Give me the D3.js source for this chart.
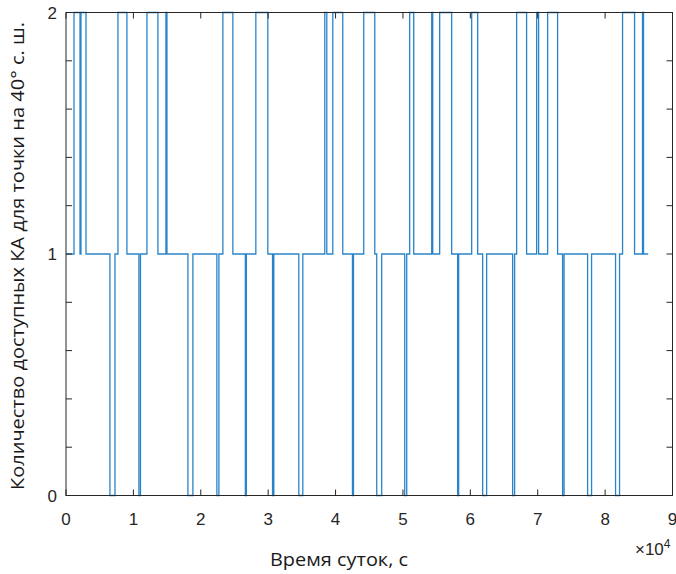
<!DOCTYPE html>
<html><head><meta charset="utf-8">
<script src="https://cdn.jsdelivr.net/npm/d3@7"></script>
<style>
html,body{margin:0;padding:0;background:#fff;}
svg{display:block;}
</style></head>
<body>
<svg id="chart" width="676" height="574"></svg>
<script>
// Step times (s) and number of visible satellites after each step
const stepTimes = [0,1190,2080,2220,2970,6520,7270,7710,9040,10820,11050,12010,13640,14830,14980,
  18090,18830,22390,22690,23280,24760,26610,26760,28170,29950,30650,30840,34550,35140,
  38400,38700,39590,41070,42510,42660,44180,45820,46110,46850,50260,50560,51000,51600,
  54270,54420,55450,57230,58120,58270,60200,61090,61830,62420,66280,66570,66870,68350,
  69840,70130,71470,72950,73690,73910,77400,77990,81550,82140,82590,84370,85550,85700,86400];
const satCounts = [1,2,1,2,1,0,1,2,1,0,1,2,1,2,1,
  0,1,0,1,2,1,0,1,2,1,0,1,0,1,
  2,1,2,1,0,1,2,1,0,1,0,1,2,1,
  2,1,2,1,0,1,2,1,0,1,0,1,2,1,
  2,1,2,1,0,1,0,1,0,1,2,1,2,1,1];
const xTicks = [0,10000,20000,30000,40000,50000,60000,70000,80000,90000];
const xTickLabels = ["0","1","2","3","4","5","6","7","8","9"];
const yTicks = [0,0.2,0.4,0.6,0.8,1,1.2,1.4,1.6,1.8,2];
const yTickLabels = {0:"0",1:"1",2:"2"};
const xLabel = "Время суток, с";
const yLabel = "Количество доступных КА для точки на 40° с. ш.";

const svg = d3.select("#chart");
const L = 66, R = 672.5, T = 12.5, B = 495.5;
const x = d3.scaleLinear().domain([0, 90000]).range([L, R]);
const y = d3.scaleLinear().domain([0, 2]).range([B, T]);
const axisColor = "#262626";
const lineColor = "#2a84c9";

const data = stepTimes.map((t, i) => ({t, v: satCounts[i]}));
const line = d3.line().x(d => x(d.t)).y(d => y(d.v)).curve(d3.curveStepAfter);

svg.append("path").datum(data)
  .attr("d", line)
  .attr("fill", "none")
  .attr("stroke", lineColor)
  .attr("stroke-width", 1.3);

// box
svg.append("rect").attr("x", L).attr("y", T).attr("width", R - L).attr("height", B - T)
  .attr("fill", "none").attr("stroke", axisColor).attr("stroke-width", 1);

const tl = 6;
const g = svg.append("g").attr("stroke", axisColor).attr("stroke-width", 1);
xTicks.forEach(v => {
  const px = x(v);
  g.append("line").attr("x1", px).attr("x2", px).attr("y1", B).attr("y2", B - tl);
  g.append("line").attr("x1", px).attr("x2", px).attr("y1", T).attr("y2", T + tl);
});
yTicks.forEach(v => {
  const py = y(v);
  g.append("line").attr("x1", L).attr("x2", L + tl).attr("y1", py).attr("y2", py);
  g.append("line").attr("x1", R).attr("x2", R - tl).attr("y1", py).attr("y2", py);
});

const tickFont = "'Liberation Sans', Arial, sans-serif";
svg.append("g").selectAll("text").data(xTicks).join("text")
  .attr("x", d => x(d)).attr("y", B + 29)
  .attr("text-anchor", "middle")
  .attr("font-family", tickFont).attr("font-size", 17).attr("fill", axisColor)
  .text((d, i) => xTickLabels[i]);

svg.append("g").selectAll("text").data(yTicks.filter(v => yTickLabels[v] !== undefined)).join("text")
  .attr("x", L - 9).attr("y", d => y(d) + 6)
  .attr("text-anchor", "end")
  .attr("font-family", tickFont).attr("font-size", 17).attr("fill", axisColor)
  .text(d => yTickLabels[d]);

// exponent
const ex = svg.append("text").attr("x", R - 2).attr("y", 555).attr("text-anchor", "end")
  .attr("font-family", tickFont).attr("font-size", 17).attr("fill", axisColor);
ex.append("tspan").text("×10");
ex.append("tspan").attr("dy", -7).attr("font-size", 12).text("4");

const labelFont = "'Open Sans', 'Noto Sans', sans-serif";
svg.append("text").attr("x", 339).attr("y", 566)
  .attr("text-anchor", "middle").attr("font-family", labelFont).attr("font-size", 18)
  .attr("textLength", 138).attr("lengthAdjust", "spacingAndGlyphs")
  .attr("fill", "#1a1a1a").text(xLabel);

svg.append("text").attr("transform", `translate(24, 256) rotate(-90)`)
  .attr("text-anchor", "middle").attr("font-family", labelFont).attr("font-size", 18)
  .attr("textLength", 468).attr("lengthAdjust", "spacingAndGlyphs")
  .attr("fill", "#1a1a1a").text(yLabel);
</script>
</body></html>
